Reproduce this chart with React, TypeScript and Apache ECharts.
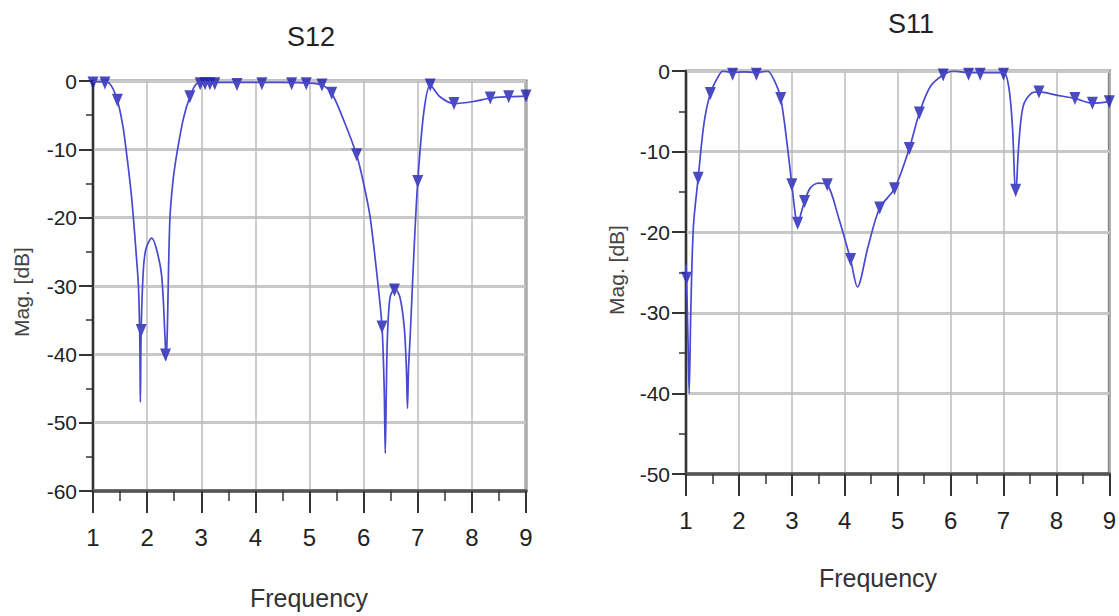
import React, { useEffect, useRef } from "react";
import * as echarts from "echarts";

// S12 curve (frequency, dB)
const s12Curve: [number, number][] = [
  [1.0, -0.1], [1.15, -0.1], [1.31, -0.4], [1.45, -2.8], [1.55, -6.5], [1.62, -10.6], [1.7, -16], [1.745, -19.9],
  [1.8, -25.5], [1.84, -30.1], [1.865, -38], [1.875, -47], [1.89, -36.5], [1.93, -27.7], [1.98, -24.5],
  [2.085, -23], [2.18, -24.8], [2.27, -28.6], [2.33, -37.4], [2.35, -40.8], [2.37, -37.4], [2.42, -20.3],
  [2.48, -14.5], [2.55, -10.6], [2.67, -5.5], [2.79, -2.3], [2.9, -0.5], [3.0, -0.2], [3.5, -0.2], [4.0, -0.2],
  [4.5, -0.2], [5.0, -0.3], [5.23, -0.6], [5.41, -1.8], [5.63, -5.7], [5.87, -10.8], [6.0, -15], [6.12, -19.9],
  [6.27, -30.1], [6.34, -36], [6.38, -45], [6.4, -54.5], [6.42, -45], [6.44, -37.4], [6.49, -31.6], [6.58, -30.4],
  [6.67, -31.6], [6.75, -36], [6.79, -42], [6.81, -47.9], [6.83, -42], [6.86, -37.4], [6.93, -25], [7.0, -14.7],
  [7.11, -4.7], [7.23, -0.6], [7.41, -2.3], [7.67, -3.3], [8.03, -3.0], [8.34, -2.5], [8.68, -2.3], [9.0, -2.2],
];
const s12Markers: [number, number][] = [
  [1.0, -0.3], [1.22, -0.3], [1.45, -2.8], [1.89, -36.5], [2.34, -40.1], [2.79, -2.3], [2.98, -0.4], [3.07, -0.4],
  [3.16, -0.4], [3.25, -0.4], [3.66, -0.5], [4.12, -0.4], [4.67, -0.4], [4.94, -0.4], [5.23, -0.6], [5.41, -1.8],
  [5.87, -10.8], [6.34, -36], [6.57, -30.6], [7.0, -14.7], [7.23, -0.6], [7.67, -3.3], [8.34, -2.5], [8.68, -2.3],
  [9.0, -2.2],
];

// S11 curve (frequency, dB)
const s11Curve: [number, number][] = [
  [1.0, -24], [1.01, -25.7], [1.04, -34], [1.06, -40], [1.09, -30], [1.14, -19.3], [1.23, -13.3], [1.34, -6.5],
  [1.46, -2.8], [1.6, -0.8], [1.7, 0], [1.88, -0.2], [2.1, -0.1], [2.33, -0.2], [2.54, 0], [2.67, -1.2],
  [2.79, -3.4], [2.91, -9], [3.0, -14.1], [3.06, -17.5], [3.11, -19.3], [3.16, -18.0], [3.24, -16.2], [3.35, -14.5],
  [3.5, -13.9], [3.67, -14.1], [3.88, -18.1], [4.11, -23.4], [4.24, -26.8], [4.44, -21.8], [4.66, -17],
  [4.94, -14.6], [5.22, -9.6], [5.41, -5.2], [5.62, -1.9], [5.86, -0.5], [6.06, 0], [6.34, -0.2], [6.56, -0.2],
  [7.0, -0.2], [7.1, -2.0], [7.17, -7], [7.23, -15.5], [7.29, -9], [7.37, -4.4], [7.52, -2.8], [7.67, -2.6],
  [8.0, -3.0], [8.35, -3.4], [8.68, -4.0], [9.0, -3.8],
];
const s11Markers: [number, number][] = [
  [1.01, -25.7], [1.23, -13.3], [1.46, -2.8], [1.88, -0.4], [2.33, -0.4], [2.79, -3.4], [3.0, -14.1], [3.11, -18.9],
  [3.24, -16.2], [3.67, -14.1], [4.11, -23.4], [4.66, -17], [4.94, -14.6], [5.22, -9.6], [5.41, -5.2],
  [5.86, -0.5], [6.34, -0.4], [6.56, -0.4], [7.0, -0.4], [7.23, -14.8], [7.67, -2.6], [8.35, -3.4], [8.68, -4.0],
  [9.0, -3.8],
];

const titles = ["S12", "S11"];
const xName = "Frequency";
const yName = "Mag. [dB]";
const yMins = [-60, -50];

const FONT = "'Liberation Sans', Arial, sans-serif";
const LINE = "#4848d0";
const MARK = "#1e1eac";

export default function App() {
  const ref = useRef<HTMLDivElement>(null);
  useEffect(() => {
    if (!ref.current) return;
    const chart = echarts.init(ref.current, undefined, { renderer: "svg" });
    const grids = [
      { left: 93, top: 81, width: 433, height: 410 },
      { left: 686, top: 71, width: 428, height: 403 },
    ];
    const mkX = (i: number) => ({
      type: "value" as const,
      gridIndex: i,
      min: 1,
      max: 9,
      interval: 1,
      axisLine: { show: true, onZero: false, lineStyle: { color: "#555", width: 3.5 } },
      axisTick: { show: true, length: 22, lineStyle: { color: "#333", width: 2 } },
      minorTick: { show: true, splitNumber: 2, length: 10, lineStyle: { color: "#333", width: 1.5 } },
      axisLabel: { fontFamily: FONT, fontSize: 24, color: "#222", margin: 34 },
      splitLine: { show: true, lineStyle: { color: "#bbb", width: 1.5 } },
    });
    const mkY = (i: number) => ({
      type: "value" as const,
      gridIndex: i,
      min: yMins[i],
      max: 0,
      interval: 10,
      axisLine: { show: true, onZero: false, lineStyle: { color: "#333", width: 2 } },
      axisTick: { show: true, length: 14, lineStyle: { color: "#333", width: 2 } },
      minorTick: { show: true, splitNumber: 2, length: 7, lineStyle: { color: "#333", width: 1.5 } },
      axisLabel: { fontFamily: FONT, fontSize: 21, color: "#222", margin: 16 },
      splitLine: { show: true, lineStyle: { color: "#c8c8c8", width: 3 } },
    });
    chart.setOption({
      animation: false,
      backgroundColor: "#fff",
      title: [
        { text: titles[0], left: 306, top: 18, textAlign: "center", textStyle: { fontFamily: FONT, fontSize: 27, fontWeight: "normal", color: "#222" } },
        { text: titles[1], left: 906, top: 5, textAlign: "center", textStyle: { fontFamily: FONT, fontSize: 27, fontWeight: "normal", color: "#222" } },
      ],
      grid: grids.map((g) => ({ ...g, show: true, borderColor: "#808080", borderWidth: 3, backgroundColor: "transparent" })),
      xAxis: [mkX(0), mkX(1)],
      yAxis: [mkY(0), mkY(1)],
      graphic: [
        { type: "text", style: { text: yName, fontFamily: FONT, fontSize: 21, fill: "#444", textAlign: "center", textVerticalAlign: "middle" }, rotation: Math.PI / 2, x: 21, y: 292 },
        { type: "text", style: { text: yName, fontFamily: FONT, fontSize: 21, fill: "#444", textAlign: "center", textVerticalAlign: "middle" }, rotation: Math.PI / 2, x: 616, y: 270 },
        { type: "text", style: { text: xName, fontFamily: FONT, fontSize: 25, fill: "#333", textAlign: "center", textVerticalAlign: "middle" }, x: 309, y: 598 },
        { type: "text", style: { text: xName, fontFamily: FONT, fontSize: 25, fill: "#333", textAlign: "center", textVerticalAlign: "middle" }, x: 878, y: 578 },
      ],
      series: [
        { type: "line", xAxisIndex: 0, yAxisIndex: 0, data: s12Curve, smooth: 0.3, showSymbol: false, lineStyle: { color: LINE, width: 1.7 } },
        { type: "scatter", xAxisIndex: 0, yAxisIndex: 0, data: s12Markers, symbol: "triangle", symbolRotate: 180, symbolSize: [11, 13], itemStyle: { color: MARK } },
        { type: "line", xAxisIndex: 1, yAxisIndex: 1, data: s11Curve, smooth: 0.3, showSymbol: false, lineStyle: { color: LINE, width: 1.7 } },
        { type: "scatter", xAxisIndex: 1, yAxisIndex: 1, data: s11Markers, symbol: "triangle", symbolRotate: 180, symbolSize: [11, 13], itemStyle: { color: MARK } },
      ],
    });
    return () => chart.dispose();
  }, []);
  return <div ref={ref} style={{ position: "fixed", left: 0, top: 0, width: 1119, height: 616, background: "#fff" }} />;
}
